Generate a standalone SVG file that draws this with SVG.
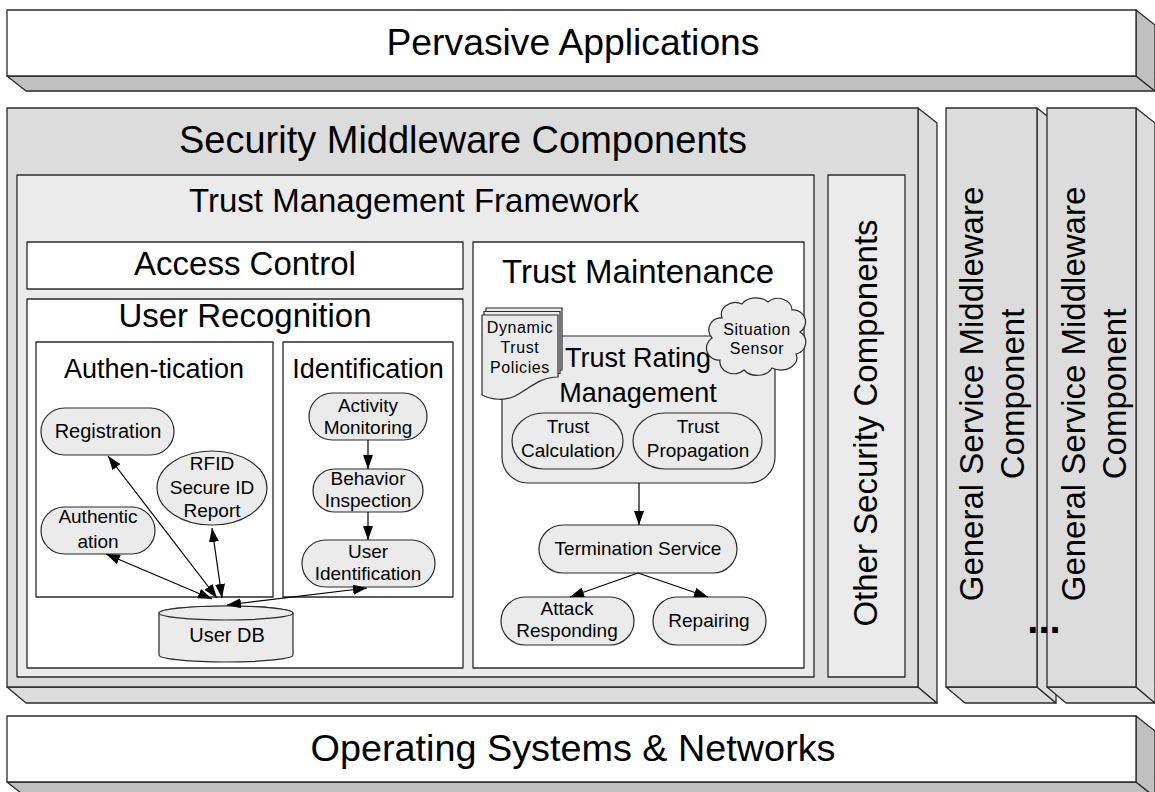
<svg xmlns="http://www.w3.org/2000/svg" width="1155" height="792" viewBox="0 0 1155 792">
<style>
.ln{stroke:#2a2a2a;stroke-width:1.3;stroke-linejoin:round}
.w{fill:#ffffff}
.g1{fill:#dcdcdc}
.g2{fill:#ebebeb}
.g3{fill:#c0c0c0}
.nd{fill:#ebebeb;stroke:#2a2a2a;stroke-width:1.2}
.t{font-family:"Liberation Sans",Arial,sans-serif;fill:#000;text-anchor:middle}
.s19{font-size:19px}
.s16{font-size:16px;letter-spacing:0.6px}
.s27{font-size:27px}
.s33{font-size:33px}
.cn{stroke:#000;stroke-width:1.2;fill:none;marker-start:url(#ah);marker-end:url(#ah)}
.cn1{stroke:#000;stroke-width:1.2;fill:none;marker-end:url(#ah)}
</style>
<defs>
<marker id="ah" viewBox="0 0 14 10" refX="14" refY="5" markerWidth="14" markerHeight="10" markerUnits="userSpaceOnUse" orient="auto-start-reverse">
<path d="M0,0 L14,5 L0,10 z" fill="#000"/>
</marker>
</defs>
<rect width="1155" height="792" fill="#ffffff"/>

<g id="pervasive-applications">
<polygon class="g3 ln" points="7,76 1136,76 1155,91 26,91"/>
<polygon class="g3 ln" points="1136,10 1155,25 1155,91 1136,76"/>
<rect class="w ln" x="7" y="10" width="1129" height="66"/>
<text class="t" x="573" y="55" font-size="36" textLength="373" lengthAdjust="spacingAndGlyphs">Pervasive Applications</text>
</g>

<g id="security-middleware">
<polygon class="g1 ln" points="7,687 918,687 937,703 26,703"/>
<polygon class="g1 ln" points="918,108 937,123 937,703 918,687"/>
<rect class="g1 ln" x="7" y="108" width="911" height="579"/>
<text class="t" x="463" y="153" font-size="38">Security Middleware Components</text>
</g>

<g id="trust-management-framework">
<rect class="g2 ln" x="17" y="175" width="797" height="502"/>
<text class="t s33" x="414" y="212">Trust Management Framework</text>
</g>

<g id="other-security-components">
<rect class="g2 ln" x="828" y="175" width="77" height="502"/>
<text class="t s33" transform="translate(877,423) rotate(-90)">Other Security Components</text>
</g>

<g id="access-control">
<rect class="w ln" x="27" y="242" width="436" height="47"/>
<text class="t s33" x="245" y="275">Access Control</text>
</g>

<g id="user-recognition">
<rect class="w ln" x="27" y="299" width="436" height="369"/>
<text class="t s33" x="245" y="327">User Recognition</text>
</g>

<g id="authentication-group">
<rect class="w ln" x="36" y="342" width="237" height="255"/>
<text class="t s27" x="154" y="378">Authen-tication</text>
</g>

<g id="identification-group">
<rect class="w ln" x="283" y="342" width="170" height="255"/>
<text class="t s27" x="368" y="378">Identification</text>
</g>

<g id="registration">
<rect class="nd" x="41" y="408" width="133" height="47" rx="23.5"/>
<text class="t" font-size="20" x="108" y="438">Registration</text>
</g>

<g id="rfid-report">
<ellipse class="nd" cx="212" cy="488" rx="55" ry="37"/>
<text class="t s19" x="212" y="470">RFID</text>
<text class="t s19" x="212" y="494">Secure ID</text>
<text class="t s19" x="212" y="517">Report</text>
</g>

<g id="authentication">
<rect class="nd" x="41" y="507" width="114" height="47" rx="23.5"/>
<text class="t s19" x="98" y="523">Authentic</text>
<text class="t s19" x="98" y="548">ation</text>
</g>

<g id="user-db">
<path class="nd" d="M159,613 V655 A67,7 0 0 0 293,655 V613 A67,7 0 0 0 159,613 Z"/>
<ellipse class="nd" cx="226" cy="613" rx="67" ry="7"/>
<text class="t" font-size="20" x="227" y="642">User DB</text>
</g>

<g id="activity-monitoring">
<rect class="nd" x="309" y="393" width="118" height="47" rx="23.5"/>
<text class="t s19" x="368" y="412">Activity</text>
<text class="t s19" x="368" y="434">Monitoring</text>
</g>

<g id="behavior-inspection">
<rect class="nd" x="313" y="469" width="110" height="43" rx="21.5"/>
<text class="t s19" x="368" y="485">Behavior</text>
<text class="t s19" x="368" y="507">Inspection</text>
</g>

<g id="user-identification">
<rect class="nd" x="302" y="540" width="133" height="47" rx="23.5"/>
<text class="t s19" x="368" y="558">User</text>
<text class="t s19" x="368" y="580">Identification</text>
</g>

<g id="trust-maintenance">
<rect class="w ln" x="473" y="242" width="331" height="426"/>
<text class="t s33" x="638" y="283">Trust Maintenance</text>
</g>

<g id="trust-rating-management">
<rect class="nd" x="502" y="336" width="273" height="147" rx="26"/>
<text class="t s27" x="638" y="367">Trust Rating</text>
<text class="t s27" x="638" y="402">Management</text>
</g>

<g id="trust-calculation">
<rect class="nd" x="512" y="413" width="111" height="56" rx="32" ry="28"/>
<text class="t s19" x="568" y="433">Trust</text>
<text class="t s19" x="568" y="457">Calculation</text>
</g>

<g id="trust-propagation">
<rect class="nd" x="633" y="413" width="129" height="56" rx="32" ry="28"/>
<text class="t s19" x="698" y="433">Trust</text>
<text class="t s19" x="698" y="457">Propagation</text>
</g>

<g id="dynamic-trust-policies">
<path class="nd" d="M486,308 H562 V370 C546,370 537,378 525,385 L486,385 Z"/>
<path class="nd" d="M484,311.5 H560 V373.5 C543,373.5 534,383 521,390 L484,390 Z"/>
<path class="nd" d="M482,315 H558 V377 C540,377 530,388 515,396 C505,401 492,400 482,395 Z"/>
<text class="t s16" x="520" y="333">Dynamic</text>
<text class="t s16" x="520" y="353">Trust</text>
<text class="t s16" x="520" y="373">Policies</text>
</g>

<g id="situation-sensor">
<path class="nd" d="M722,318 a14,12 0 0 1 20,-14 a16,12 0 0 1 26,-2 a14,12 0 0 1 24,8 a12,12 0 0 1 8,22 a12,12 0 0 1 -4,22 a16,12 0 0 1 -24,14 a16,12 0 0 1 -28,2 a14,12 0 0 1 -24,-10 a12,12 0 0 1 -8,-22 a12,12 0 0 1 10,-20 z"/>
<text class="t s16" x="757" y="335">Situation</text>
<text class="t s16" x="757" y="354">Sensor</text>
</g>

<g id="termination-service">
<rect class="nd" x="539" y="525" width="198" height="48" rx="24"/>
<text class="t s19" x="638" y="555">Termination Service</text>
</g>

<g id="attack-responding">
<rect class="nd" x="501" y="597" width="133" height="48" rx="24"/>
<text class="t s19" x="567" y="615">Attack</text>
<text class="t s19" x="567" y="637">Responding</text>
</g>

<g id="repairing">
<rect class="nd" x="653" y="597" width="113" height="48" rx="24"/>
<text class="t s19" x="709" y="627">Repairing</text>
</g>

<g id="general-service-1">
<polygon class="g1 ln" points="946,687 1037,687 1056,703 965,703"/>
<polygon class="g1 ln" points="1037,108 1056,123 1056,703 1037,687"/>
<rect class="g1 ln" x="946" y="108" width="91" height="579"/>
<text class="t s33" transform="translate(983,394) rotate(-90)">General Service Middleware</text>
<text class="t s33" transform="translate(1024,394) rotate(-90)">Component</text>
</g>

<g id="general-service-2">
<polygon class="g1 ln" points="1047,687 1136,687 1155,703 1066,703"/>
<polygon class="g1 ln" points="1136,108 1155,123 1155,703 1136,687"/>
<rect class="g1 ln" x="1047" y="108" width="89" height="579"/>
<text class="t s33" transform="translate(1085,394) rotate(-90)">General Service Middleware</text>
<text class="t s33" transform="translate(1126,394) rotate(-90)">Component</text>
</g>

<text id="ellipsis" class="t" x="1044" y="633" font-size="40" font-weight="bold">...</text>

<g id="operating-systems-networks">
<polygon class="g3 ln" points="7,782 1136,782 1155,797 26,797"/>
<polygon class="g3 ln" points="1136,716 1155,731 1155,797 1136,782"/>
<rect class="w ln" x="7" y="716" width="1129" height="66"/>
<text class="t" x="573" y="761" font-size="36" textLength="525" lengthAdjust="spacingAndGlyphs">Operating Systems &amp; Networks</text>
</g>

<g id="connectors">
<line class="cn" x1="217" y1="598" x2="108" y2="456"/>
<line class="cn" x1="212" y1="599" x2="106" y2="554"/>
<line class="cn" x1="222" y1="598" x2="212" y2="528"/>
<line class="cn" x1="227" y1="605" x2="367" y2="588"/>
<line class="cn1" x1="368" y1="440" x2="368" y2="469"/>
<line class="cn1" x1="368" y1="512" x2="368" y2="540"/>
<line class="cn1" x1="639" y1="483" x2="639" y2="525"/>
<line class="cn1" x1="638" y1="573" x2="570" y2="597"/>
<line class="cn1" x1="638" y1="573" x2="708" y2="597"/>
</g>
</svg>
